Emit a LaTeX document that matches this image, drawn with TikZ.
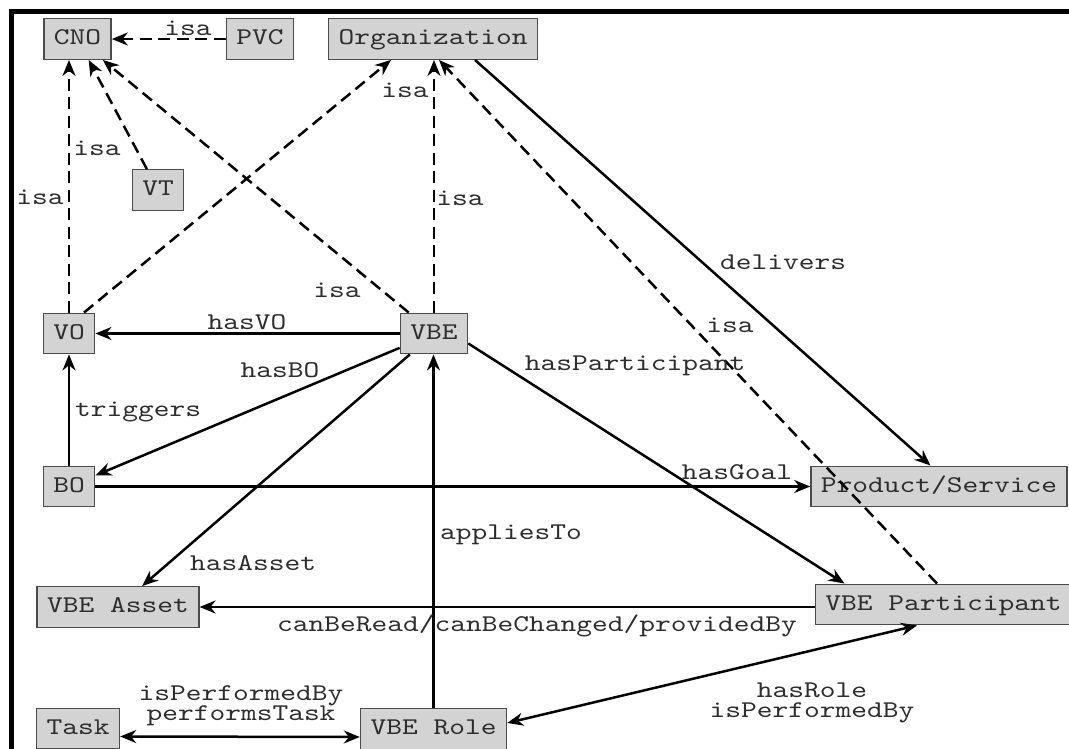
\documentclass[tikz,border=0pt]{standalone}
\usepackage{fontspec}
\newfontfamily\diagfont{lmmono10-regular.otf}[FakeStretch=1.25]
\usetikzlibrary{arrows.meta,calc}
\definecolor{boxfill}{RGB}{211,211,211}
\definecolor{boxline}{RGB}{75,75,75}
\definecolor{ink}{RGB}{45,45,45}

\begin{document}
\begin{tikzpicture}[x=1pt,y=-1pt,
  every node/.style={font=\diagfont\fontsize{24}{20.5}\selectfont, text=ink},
  concept/.style={draw=boxline, fill=boxfill, line width=1.4pt, inner xsep=10pt,
    inner ysep=0pt, minimum height=40.5pt, text height=15pt, text depth=4pt},
  rel/.style={line width=2.5pt, draw=black, -{Stealth[length=16pt,width=13pt]}},
  rel2/.style={line width=2.5pt, draw=black,
    {Stealth[length=16pt,width=13pt]}-{Stealth[length=16pt,width=13pt]}},
  isa/.style={rel, dash pattern=on 12pt off 6.5pt},
  lbl/.style={inner sep=0pt, align=center}
]
\useasboundingbox (0,0) rectangle (1069,749);

% outer frame
\draw[line width=4.5pt] (11.5,800) -- (11.5,11.5) -- (1100,11.5);

% concepts
\node[concept] (CNO)  at (77.5,39)    {CNO};
\node[concept] (PVC)  at (260,39)     {PVC};
\node[concept] (Org)  at (433,39)     {Organization};
\node[concept] (VT)   at (158,190)    {VT};
\node[concept] (VO)   at (69,333.5)   {VO};
\node[concept] (VBE)  at (434,333.5)  {VBE};
\node[concept] (BO)   at (69,486.5)   {BO};
\node[concept] (PS)   at (939,486.5)  {Product/Service};
\node[concept] (VA)   at (118,607)    {VBE Asset};
\node[concept] (VBEP) at (943.5,604.5){VBE Participant};
\node[concept] (Task) at (78,728.5)   {Task};
\node[concept] (Role) at (433.5,729)  {VBE Role};

% isa relations
\draw[isa] (PVC) -- (CNO);
\draw[isa] (VT) -- (CNO);
\draw[isa] (VO.north) -- (VO.north |- CNO.south);
\draw[isa] (VBE) -- (CNO);
\draw[isa] ($(VO.north)+(15,0)$) -- ($(Org.south)+(-42,0)$);
\draw[isa] (VBE.north) -- (VBE.north |- Org.south);
\draw[isa] ($(VBEP.north)+(-6.5,0)$) -- ($(Org.south)+(6,0)$);

% other relations
\draw[rel] ($(Org.south)+(42,0)$) -- ($(PS.north)+(-8.5,0)$);
\draw[rel] (VBE) -- (VO);
\draw[rel] (VBE) -- (BO);
\draw[rel] (BO) -- (VO);
\draw[rel] (BO) -- (PS);
\draw[rel] (VBE) -- (VA);
\draw[rel] ($(VBE.east)+(0,10)$) -- ($(VBEP.north)+(-99,0)$);
\draw[rel] (Role.north) -- (Role.north |- VBE.south);
\draw[rel] (VBEP.west |- VA) -- (VA);
\draw[rel2] ($(Task.east)+(0,8)$) -- ($(Role.west)+(0,8)$);
\draw[rel2] ($(Role.east)+(0,-6)$) -- ($(VBEP.south)+(-26.5,0)$);

% labels
\node[lbl] (l1)  at (188,28)   {isa};
\node[lbl] (l2)  at (97,148)   {isa};
\node[lbl] (l3)  at (40,197)   {isa};
\node[lbl] (l4)  at (405,90)   {isa};
\node[lbl] (l5)  at (460,198)  {isa};
\node[lbl] (l6)  at (337,290)  {isa};
\node[lbl] (l7)  at (730,325)  {isa};
\node[lbl] (l8)  at (783,262)  {delivers};
\node[lbl] (l9)  at (247,322)  {hasVO};
\node[lbl] (l10) at (280,370)  {hasBO};
\node[lbl] (l11) at (138,412)  {triggers};
\node[lbl] (l12) at (635,366)  {hasParticipant};
\node[lbl] (l13) at (737,472)  {hasGoal};
\node[lbl] (l14) at (511,535)  {appliesTo};
\node[lbl] (l15) at (253,563)  {hasAsset};
\node[lbl] (l16) at (537,626)  {canBeRead/canBeChanged/providedBy};
\node[lbl] (l17) at (241,706)  {isPerformedBy\\performsTask};
\node[lbl] (l18) at (812,703)  {hasRole\\isPerformedBy};
\end{tikzpicture}
\end{document}
